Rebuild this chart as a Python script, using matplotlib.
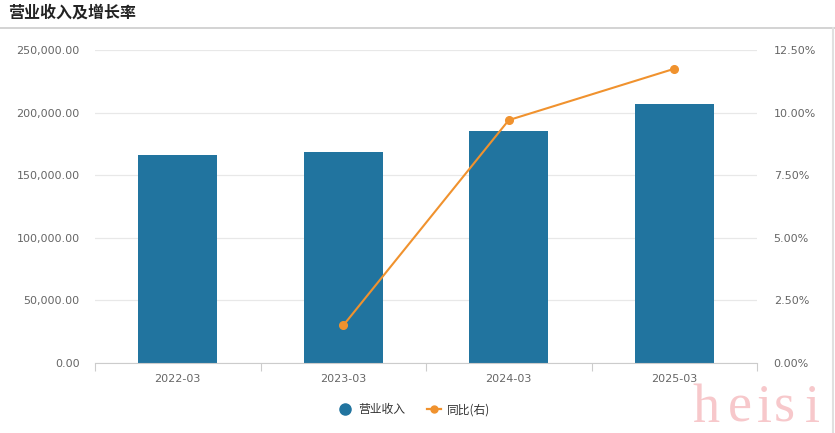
import matplotlib.pyplot as plt
from matplotlib.lines import Line2D
import numpy as np

plt.rcParams['font.family'] = ['Noto Sans CJK SC', 'DejaVu Sans']

categories = ['2022-03', '2023-03', '2024-03', '2025-03']
revenue = [166300, 168800, 185300, 207000]
growth = [None, 1.50, 9.70, 11.75]
left_ticks = [0, 50000, 100000, 150000, 200000, 250000]
right_ticks = [0, 2.5, 5.0, 7.5, 10.0, 12.5]

bar_color = '#21749f'
line_color = '#f0922e'
tick_color = '#666666'

W, H = 835, 433
fig = plt.figure(figsize=(W / 100, H / 100), dpi=100)

# panel header
fig.text(8 / W, 1 - 13 / H, '营业收入及增长率', fontsize=11.5, fontweight='bold',
         color='#222222', va='center', ha='left')
fig.add_artist(Line2D([0, 1], [1 - 28 / H, 1 - 28 / H], color='#cccccc', lw=1.2,
                      transform=fig.transFigure))
fig.add_artist(Line2D([1 - 2 / W, 1 - 2 / W], [0, 1 - 28 / H], color='#e0e0e0', lw=1.5,
                      transform=fig.transFigure))

ax = fig.add_axes([95 / W, 1 - 363 / H, (757 - 95) / W, (363 - 50) / H])
x = np.arange(len(categories))
ax.bar(x, revenue, width=0.48, color=bar_color, zorder=2)
ax.set_xlim(-0.5, len(categories) - 0.5)
ax.set_ylim(0, 250000)
ax.set_yticks(left_ticks)
ax.set_yticklabels([f'{v:,.2f}' for v in left_ticks], family='DejaVu Sans')
ax.grid(axis='y', color='#e8e8e8', lw=0.9, zorder=0)
ax.set_axisbelow(True)
for s in ['top', 'right', 'left']:
    ax.spines[s].set_visible(False)
ax.spines['bottom'].set_color('#cccccc')
ax.tick_params(axis='y', length=0, pad=11, labelsize=8, labelcolor=tick_color)
ax.set_xticks(x)
ax.set_xticklabels(categories, family='DejaVu Sans')
ax.tick_params(axis='x', length=0, pad=8, labelsize=8, labelcolor=tick_color)
ax.set_xticks(np.arange(-0.5, len(categories)), minor=True)
ax.tick_params(axis='x', which='minor', length=6, color='#cccccc', width=0.8)

ax2 = ax.twinx()
gx = [i for i, g in enumerate(growth) if g is not None]
gy = [g for g in growth if g is not None]
ax2.plot(gx, gy, color=line_color, lw=1.5, marker='o', ms=5.5, zorder=3)
ax2.set_ylim(0, 12.5)
ax2.set_yticks(right_ticks)
ax2.set_yticklabels([f'{v:.2f}%' for v in right_ticks], family='DejaVu Sans')
ax2.tick_params(axis='y', length=0, pad=12, labelsize=8, labelcolor=tick_color)
for s in ['top', 'right', 'left', 'bottom']:
    ax2.spines[s].set_visible(False)

handles = [
    Line2D([], [], color=bar_color, marker='o', ls='none', ms=8),
    Line2D([], [], color=line_color, marker='o', lw=1.6, ms=5),
]
fig.legend(handles, ['营业收入', '同比(右)'], loc='center', bbox_to_anchor=(414 / W, 1 - 410 / H),
           ncol=2, frameon=False, fontsize=8.5, handlelength=1.2, columnspacing=1.8,
           handletextpad=0.5, labelcolor='#333333')

# spaced-out watermark letters
mark_x = [706, 740, 764, 784, 812]
for ch, px in zip('heisi', mark_x):
    fig.text(px / W, 1 - 422 / H, ch, fontsize=39, color='#f7c8cb',
             family='Liberation Serif', ha='center', va='baseline')

fig.savefig('out.png', dpi=100)
